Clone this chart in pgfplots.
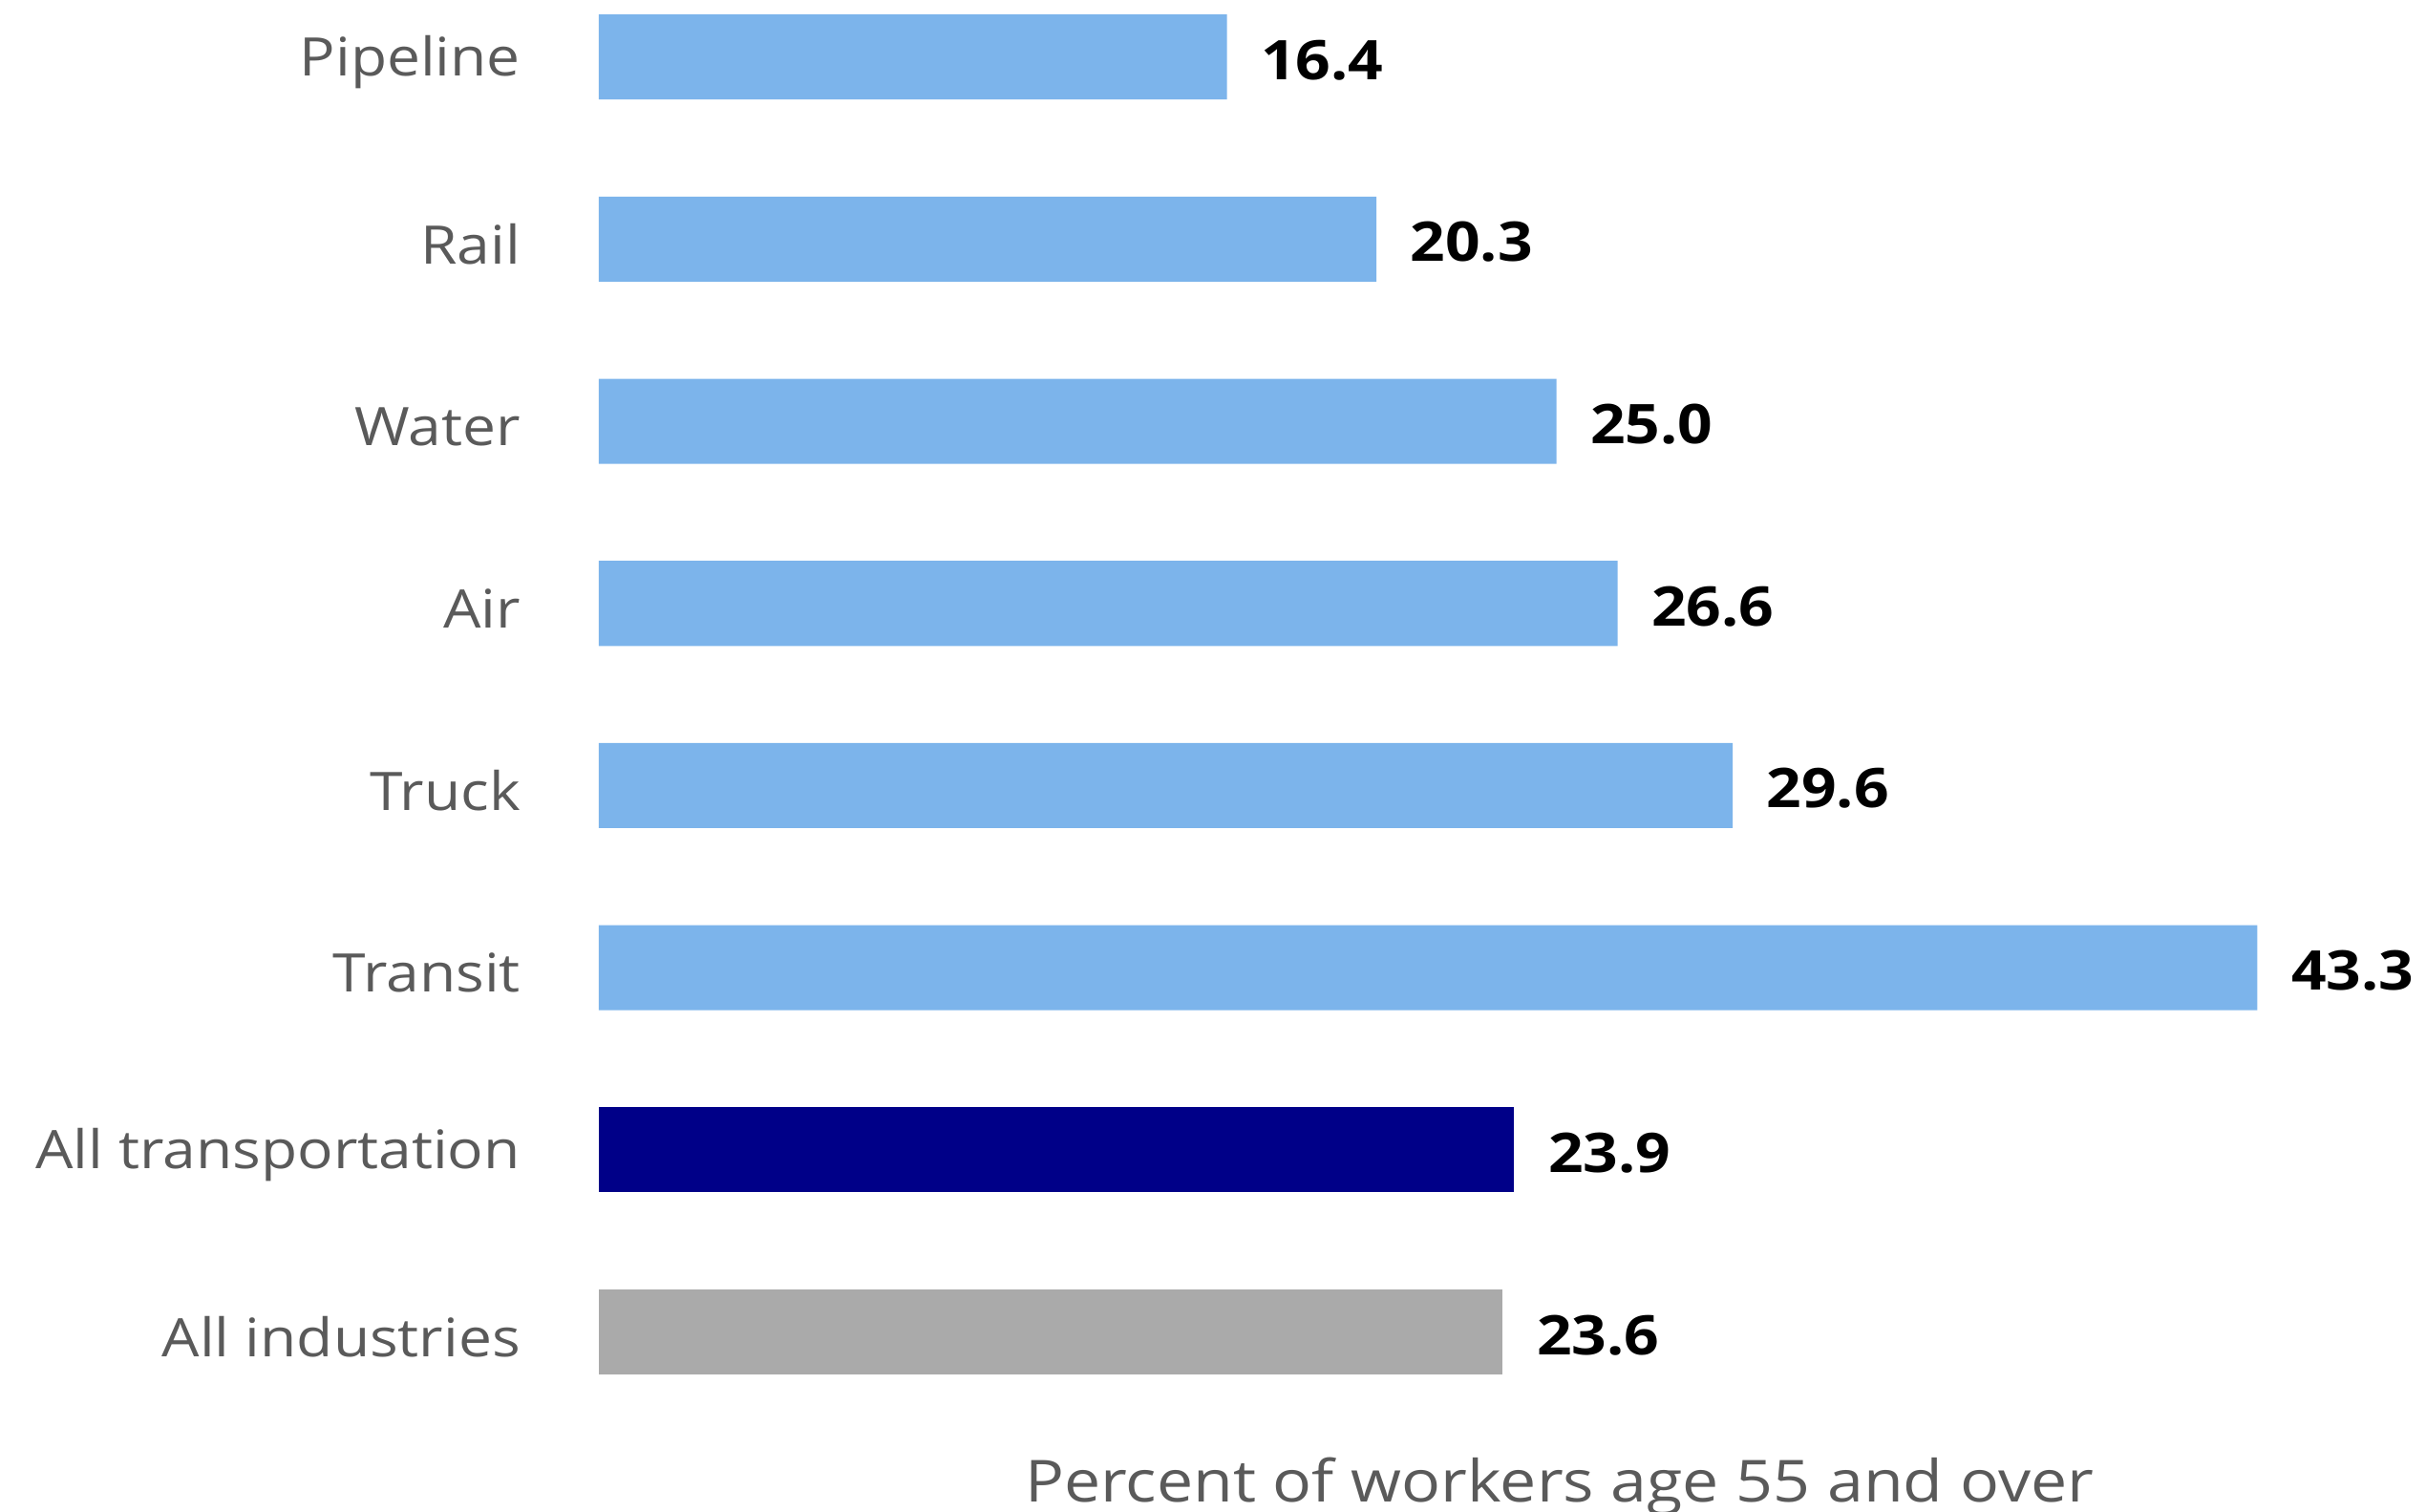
\documentclass[border=0pt]{standalone}
\usepackage{fontspec}
\setmainfont{Open Sans}[FakeStretch=1.12]
\usepackage{pgfplots}
\pgfplotsset{compat=1.18}
\definecolor{lblue}{RGB}{124,180,235}
\definecolor{navyb}{RGB}{0,0,136}
\definecolor{gbar}{RGB}{170,170,170}
\definecolor{labgray}{RGB}{90,90,90}
\begin{document}
\begin{tikzpicture}
\begin{axis}[
  at={(0,0)}, anchor=south west,
  scale only axis,
  width=321.6pt, height=282.5pt,
  xbar, bar width=16.5pt, bar shift=0pt,
  xmin=0, xmax=43.3,
  ymin=-0.5, ymax=7.5, y dir=reverse,
  axis line style={draw=none},
  xtick=\empty,
  ytick={0,1,2,3,4,5,6,7},
  yticklabels={Pipeline,Rail,Water,Air,Truck,Transit,All transportation,All industries},
  major tick length=0pt,
  yticklabel style={anchor=east, inner sep=0pt, xshift=-15.0pt, yshift=-1pt, font=\fontsize{10.3}{12}\selectfont, text=labgray},
  xlabel={Percent of workers age 55 and over},
  xlabel style={at={(axis description cs:0.5792,0)}, anchor=center, yshift=-12.3pt, font=\fontsize{11.25}{13}\selectfont, text=labgray},
  /pgf/number format/assume math mode=true,
  nodes near coords={\pgfmathprintnumber[fixed,fixed zerofill,precision=1]{\pgfplotspointmeta}},
  nodes near coords style={anchor=west, inner sep=0pt, xshift=6.4pt, yshift=-0.6pt, font=\bfseries\fontsize{10.6}{12}\selectfont, text=black},
  clip=false,
]
\addplot[draw=none, fill=lblue] coordinates {(16.4,0) (20.3,1) (25.0,2) (26.6,3) (29.6,4) (43.3,5)};
\addplot[draw=none, fill=navyb] coordinates {(23.9,6)};
\addplot[draw=none, fill=gbar] coordinates {(23.6,7)};
\end{axis}
\pgfresetboundingbox
\path (-116.1pt,-17.2pt) rectangle (354.3pt,275.9pt);
\end{tikzpicture}
\end{document}
